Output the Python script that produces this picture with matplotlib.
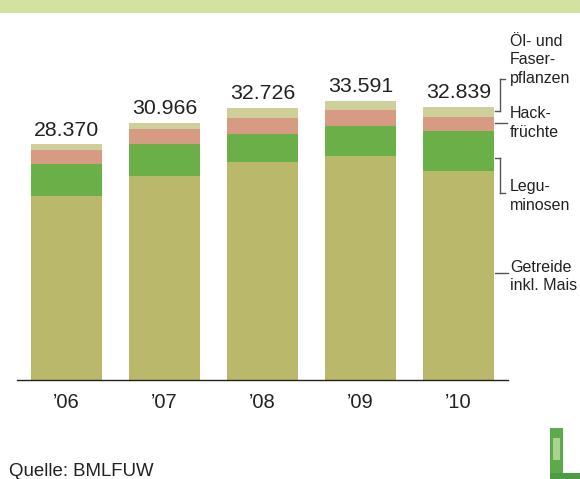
import matplotlib
matplotlib.use("Agg")
import matplotlib.pyplot as plt
import numpy as np
from matplotlib.lines import Line2D
from matplotlib.patches import Rectangle

plt.rcParams['font.family'] = ['Liberation Sans', 'DejaVu Sans']

jahre = ["’06", "’07", "’08", "’09", "’10"]
getreide = [22150, 24560, 26240, 26960, 25160]
leguminosen = [3850, 3850, 3370, 3610, 4810]
hackfruechte = [1680, 1840, 1960, 1920, 1680]
oelfaser = [690, 716, 1156, 1101, 1189]

farben = ["#bab86a", "#6aaf48", "#d79a82", "#cfcf99"]
textfarbe = "#222222"

W, H = 580, 479
fig = plt.figure(figsize=(W / 100, H / 100), dpi=100)


def fx(x):
    return x / W


def fy(y):
    return 1 - y / H


# Achse: Basislinie bei y=380.3 px, oben y=20 px
ax = fig.add_axes([fx(17), fy(380.3), fx(507.5) - fx(17), fy(20) - fy(380.3)])
x = np.arange(len(jahre))
breite = 0.7245
unten = np.zeros(len(jahre))
for werte, farbe in zip([getreide, leguminosen, hackfruechte, oelfaser], farben):
    ax.bar(x, werte, breite, bottom=unten, color=farbe, linewidth=0)
    unten = unten + np.array(werte)

for xi, summe in zip(x, unten):
    ax.annotate(f"{int(summe):,}".replace(",", "."), (xi, summe),
                xytext=(0, 6.2), textcoords="offset points",
                ha="center", va="baseline", fontsize=15.3, color=textfarbe)

ax.set_xlim(-0.505, 4.5)
ax.set_ylim(0, 360.3 / 0.00832)
ax.set_xticks(x)
ax.set_xticklabels(jahre, fontsize=14.5, color=textfarbe)
ax.tick_params(axis="x", length=0, pad=9)
ax.set_yticks([])
for s in ["top", "right", "left"]:
    ax.spines[s].set_visible(False)
ax.spines["bottom"].set_color("#222222")
ax.spines["bottom"].set_linewidth(1.0)

# Banner oben
fig.add_artist(Rectangle((0, fy(13.3)), 1, 13.3 / H, transform=fig.transFigure,
                         color="#d3e29f", linewidth=0))

# Legende rechts mit Klammern
def linie(x0, y0, x1, y1):
    fig.add_artist(Line2D([fx(x0), fx(x1)], [fy(y0), fy(y1)],
                          transform=fig.transFigure, color="#555555", linewidth=1))


linie(500, 79.3, 505, 79.3)
linie(500, 79.3, 500, 110.7)
linie(495, 110.7, 500, 110.7)
linie(495, 122.5, 507, 122.5)
linie(495, 157.7, 500, 157.7)
linie(500, 157.7, 500, 193.3)
linie(500, 193.3, 505, 193.3)
linie(495, 272.7, 508, 272.7)

legende = [
    (["Öl- und", "Faser-", "pflanzen"], 41),
    (["Hack-", "früchte"], 113.5),
    (["Legu-", "minosen"], 186),
    (["Getreide", "inkl. Mais"], 267),
]
for zeilen, y0 in legende:
    for i, z in enumerate(zeilen):
        fig.text(fx(510), fy(y0 + i * 19), z, fontsize=11.5, color=textfarbe,
                 ha="left", va="center")

fig.text(fx(9), fy(476), "Quelle: BMLFUW", fontsize=13.4, color=textfarbe,
         ha="left", va="baseline")

# Logo (grünes L) unten rechts
fig.add_artist(Rectangle((fx(550), fy(479)), 13 / W, 51 / H, transform=fig.transFigure,
                         color="#5da94c", linewidth=0))
fig.add_artist(Rectangle((fx(553), fy(460)), 7 / W, 22 / H, transform=fig.transFigure,
                         color="#a9d38e", linewidth=0))
fig.add_artist(Rectangle((fx(550), fy(479)), 30 / W, 6 / H, transform=fig.transFigure,
                         color="#4f9a45", linewidth=0))

fig.savefig("out.png", dpi=100)
